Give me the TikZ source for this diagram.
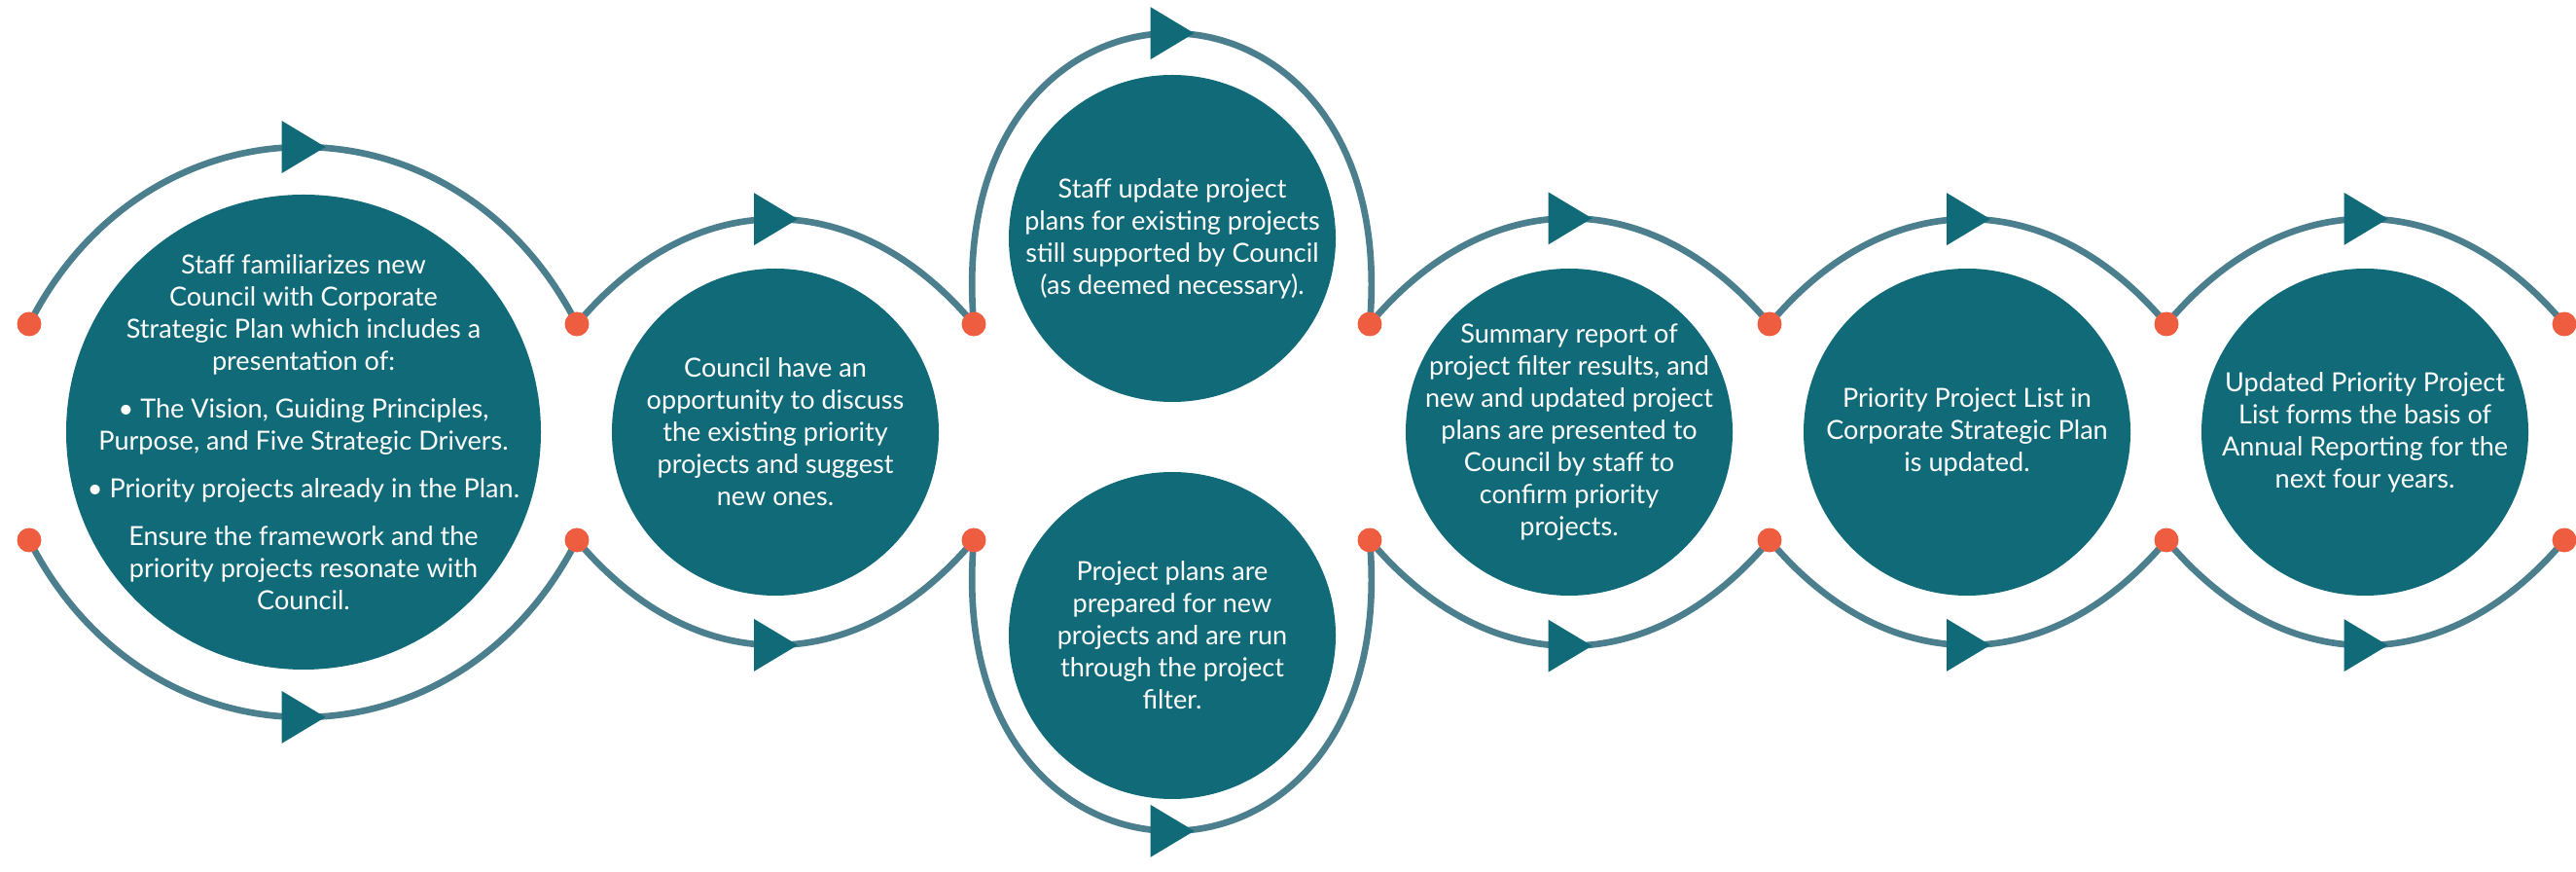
\documentclass[tikz,border=0pt]{standalone}
\usepackage{fontspec}
\setmainfont{Lato}
\usetikzlibrary{decorations.markings}
\definecolor{stageteal}{RGB}{17,106,120}
\definecolor{orbitgrey}{RGB}{75,127,141}
\definecolor{jointred}{RGB}{238,93,64}
\pgfdeclarelayer{back}
\pgfsetlayers{back,main}
\tikzset{
    stage/.style={
        circle,
        fill=stageteal,
        minimum size=3.36cm,
        inner sep=0pt
    },
    bigstage/.style={
        stage,
        minimum size=4.88cm
    },
    stagetext/.style={
        text=white,
        align=center,
        font=\fontsize{7.7}{9.4}\selectfont
    },
    joint/.style={
        circle,
        fill=jointred,
        minimum size=0.25cm,
        inner sep=0pt
    },
    orbit/.style={
        draw=orbitgrey,
        line width=1.9pt,
        postaction={decorate},
        decoration={markings,
            mark=at position 0.5 with {\fill[stageteal] (0.23,0) -- (-0.22,0.27) -- (-0.22,-0.27) -- cycle;}}
    }
}

\begin{document}
\begin{tikzpicture}
  \useasboundingbox (0,0) rectangle (26.48,8.95);

  % stages
  \node[bigstage] (s1) at (3.12,4.51) {};
  \node[stage] (s2) at (7.97,4.51) {};
  \node[stage] (s3) at (12.05,6.50) {};
  \node[stage] (s4) at (12.05,2.42) {};
  \node[stage] (s5) at (16.13,4.51) {};
  \node[stage] (s6) at (20.22,4.51) {};
  \node[stage] (s7) at (24.31,4.51) {};

  \node[stagetext] (s1text) at (s1) {Staff familiarizes new\\Council with Corporate\\Strategic Plan which includes a\\presentation of:\\[4.5pt]
    \textbullet{} The Vision, Guiding Principles,\\Purpose, and Five Strategic Drivers.\\[4.5pt]
    \textbullet{} Priority projects already in the Plan.\\[4.5pt]
    Ensure the framework and the\\priority projects resonate with\\Council.};
  \node[stagetext] (s2text) at (s2) {Council have an\\opportunity to discuss\\the existing priority\\projects and suggest\\new ones.};
  \node[stagetext] (s3text) at (s3) {Staff update project\\plans for existing projects\\still supported by Council\\(as deemed necessary).};
  \node[stagetext] (s4text) at (s4) {Project plans are\\prepared for new\\projects and are run\\through the project\\filter.};
  \node[stagetext] (s5text) at (s5) {Summary report of\\project filter results, and\\new and updated project\\plans are presented to\\Council by staff to\\confirm priority\\projects.};
  \node[stagetext] (s6text) at (s6) {Priority Project List in\\Corporate Strategic Plan\\is updated.};
  \node[stagetext] (s7text) at (s7) {Updated Priority Project\\List forms the basis of\\Annual Reporting for the\\next four years.};

  % joints
  \node[joint] (t0) at (0.30,5.62) {};
  \node[joint] (t1) at (5.93,5.62) {};
  \node[joint] (t2) at (10.01,5.62) {};
  \node[joint] (t3) at (14.08,5.62) {};
  \node[joint] (t4) at (18.19,5.62) {};
  \node[joint] (t5) at (22.27,5.62) {};
  \node[joint] (t6) at (26.36,5.62) {};
  \node[joint] (b0) at (0.30,3.40) {};
  \node[joint] (b1) at (5.93,3.40) {};
  \node[joint] (b2) at (10.01,3.40) {};
  \node[joint] (b3) at (14.08,3.40) {};
  \node[joint] (b4) at (18.19,3.40) {};
  \node[joint] (b5) at (22.27,3.40) {};
  \node[joint] (b6) at (26.36,3.40) {};

  % orbits
  \begin{pgfonlayer}{back}
    \draw[orbit] (t0.center) to[out=63,in=117,looseness=1.24] (t1.center);
    \draw[orbit] (b0.center) to[out=-63,in=-117,looseness=1.24] (b1.center);
    \draw[orbit] (t1.center) to[out=50,in=130,looseness=1.18] (t2.center);
    \draw[orbit] (b1.center) to[out=-50,in=-130,looseness=1.18] (b2.center);
    \draw[orbit] (t2.center) to[out=95,in=85,looseness=2.52] (t3.center);
    \draw[orbit] (b2.center) to[out=-95,in=-85,looseness=2.52] (b3.center);
    \draw[orbit] (t3.center) to[out=50,in=130,looseness=1.18] (t4.center);
    \draw[orbit] (b3.center) to[out=-50,in=-130,looseness=1.18] (b4.center);
    \draw[orbit] (t4.center) to[out=50,in=130,looseness=1.18] (t5.center);
    \draw[orbit] (b4.center) to[out=-50,in=-130,looseness=1.18] (b5.center);
    \draw[orbit] (t5.center) to[out=50,in=130,looseness=1.18] (t6.center);
    \draw[orbit] (b5.center) to[out=-50,in=-130,looseness=1.18] (b6.center);
  \end{pgfonlayer}

\end{tikzpicture}
\end{document}
